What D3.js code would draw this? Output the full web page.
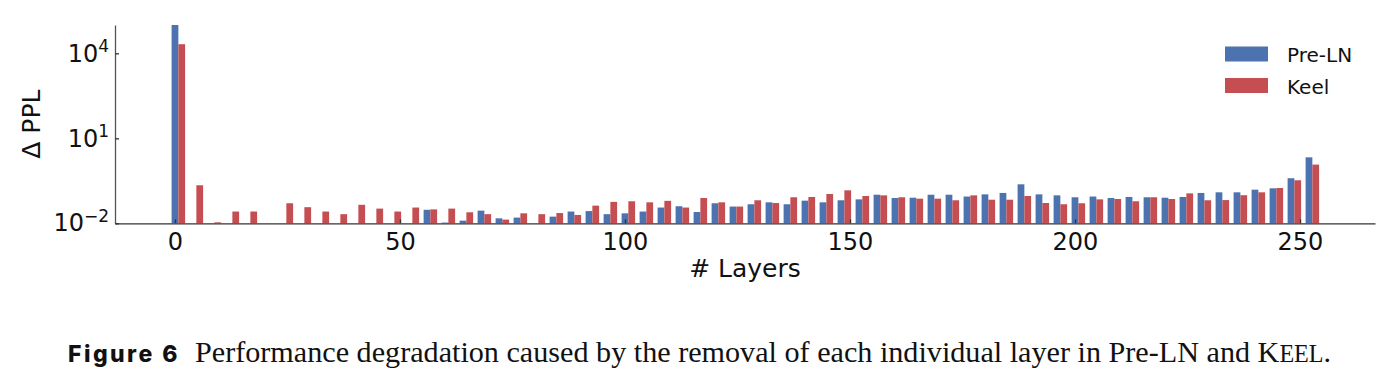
<!DOCTYPE html>
<html>
<head>
<meta charset="utf-8">
<script src="https://cdn.jsdelivr.net/npm/d3@7"></script>
<style>
  body { margin: 0; background: #fff; }
  svg { display: block; }
  text { fill: #111; }
</style>
</head>
<body>
<div id="chart"></div>
<script>
// layer index of each group (every 4th layer)
var layers = [0, 4, 8, 12, 16, 20, 24, 28, 32, 36, 40, 44, 48, 52, 56, 60,
  64, 68, 72, 76, 80, 84, 88, 92, 96, 100, 104, 108, 112, 116, 120, 124,
  128, 132, 136, 140, 144, 148, 152, 156, 160, 164, 168, 172, 176, 180, 184, 188,
  192, 196, 200, 204, 208, 212, 216, 220, 224, 228, 232, 236, 240, 244, 248, 252];

// delta PPL after removing the layer (null = below the axis floor)
var preLN = [1.2e5, null, null, null, null, null, null, null, null, null, null, null, null, null, 0.030, 0.0106,
  0.0124, 0.028, 0.015, 0.0159, null, 0.0172, 0.026, 0.027, 0.021, 0.0225, 0.026, 0.036, 0.040, 0.025, 0.051, 0.039,
  0.047, 0.055, 0.047, 0.063, 0.055, 0.065, 0.070, 0.102, 0.078, 0.080, 0.102, 0.102, 0.088, 0.105, 0.118, 0.238,
  0.105, 0.097, 0.083, 0.088, 0.078, 0.085, 0.083, 0.080, 0.085, 0.118, 0.124, 0.124, 0.154, 0.172, 0.39, 2.13];

var keel = [2.1e4, 0.22, 0.0108, 0.026, 0.026, null, 0.051, 0.037, 0.026, 0.021, 0.045, 0.033, 0.026, 0.036, 0.031, 0.033,
  0.0245, 0.021, 0.0135, 0.0225, 0.021, 0.023, 0.0197, 0.042, 0.057, 0.060, 0.055, 0.062, 0.036, 0.078, 0.055, 0.039,
  0.065, 0.052, 0.083, 0.085, 0.108, 0.146, 0.092, 0.097, 0.083, 0.074, 0.074, 0.065, 0.097, 0.068, 0.068, 0.092,
  0.052, 0.047, 0.051, 0.070, 0.072, 0.060, 0.083, 0.072, 0.114, 0.065, 0.066, 0.098, 0.124, 0.176, 0.33, 1.18];

var seriesNames = ["Pre-LN", "Keel"];
var seriesColors = ["#4c72b0", "#c44e52"];
var xTicks = [0, 50, 100, 150, 200, 250];
var yTicks = [1e-2, 1e1, 1e4];
var yTickExp = ["\u22122", "1", "4"];

var svgWidth = 1399;
var svgHeight = 386;
var sans = "'DejaVu Sans', sans-serif";

var plot = { left: 115, right: 1375, top: 25, bottom: 223.3 };

var svg = d3.select("#chart")
  .append("svg")
  .attr("width", svgWidth)
  .attr("height", svgHeight);

var x = d3.scaleLinear()
  .domain([-13.33, 266.67])
  .range([plot.left, plot.right]);

var y = d3.scaleLog()
  .domain([1e-2, 1e5])
  .range([plot.bottom, plot.top])
  .clamp(true);

var half = 0.75;
var barW = x(half) - x(-half);

// bars
[preLN, keel].forEach(function(vals, si) {
  var rows = layers.map(function(l, i) { return { layer: l, v: vals[i] }; })
    .filter(function(d) { return d.v != null && d.v > 1e-2; });
  svg.append("g")
    .selectAll("rect")
    .data(rows)
    .enter()
    .append("rect")
    .attr("x", d => si === 0 ? x(d.layer - half) : x(d.layer + half))
    .attr("y", d => y(d.v))
    .attr("width", barW)
    .attr("height", d => plot.bottom - y(d.v))
    .attr("fill", seriesColors[si]);
});

// axes
var xAxis = d3.axisBottom(x)
  .tickValues(xTicks)
  .tickSizeInner(-4)
  .tickSizeOuter(0)
  .tickPadding(10)
  .tickFormat(d3.format("d"));

var gx = svg.append("g")
  .attr("transform", `translate(0, ${plot.bottom})`)
  .call(xAxis);
gx.select(".domain").attr("stroke", "#333").attr("stroke-width", 1.3);
gx.selectAll(".tick line").attr("stroke", "#333").attr("stroke-width", 1.3);
gx.selectAll("text").attr("font-size", 24).style("font-family", sans).attr("fill", "#111");

var yAxis = d3.axisLeft(y)
  .tickValues(yTicks)
  .tickSizeInner(-4)
  .tickSizeOuter(0)
  .tickPadding(6)
  .tickFormat(function() { return ""; });

var gy = svg.append("g")
  .attr("transform", `translate(${plot.left}, 0)`)
  .call(yAxis);
gy.select(".domain").attr("stroke", "#555").attr("stroke-width", 1.3);
gy.selectAll(".tick line").attr("stroke", "#333").attr("stroke-width", 1.3);
gy.selectAll(".tick text")
  .attr("x", -6)
  .attr("font-size", 24)
  .style("font-family", sans)
  .attr("fill", "#111")
  .each(function(d, i) {
    var t = d3.select(this);
    t.append("tspan").text("10");
    t.append("tspan")
      .attr("dy", "-0.55em")
      .attr("font-size", 17)
      .text(yTickExp[i]);
  });

// axis labels
svg.append("text")
  .attr("x", (plot.left + plot.right) / 2)
  .attr("y", 277)
  .attr("text-anchor", "middle")
  .attr("font-size", 25)
  .style("font-family", sans)
  .text("# Layers");

svg.append("text")
  .attr("transform", `translate(40, ${(plot.top + plot.bottom) / 2}) rotate(-90)`)
  .attr("text-anchor", "middle")
  .attr("font-size", 25)
  .style("font-family", sans)
  .text("\u0394 PPL");

// legend
var legend = svg.append("g");
seriesNames.forEach(function(name, i) {
  legend.append("rect")
    .attr("x", 1225)
    .attr("y", 46.5 + i * 31.5)
    .attr("width", 43)
    .attr("height", 15)
    .attr("fill", seriesColors[i]);
  legend.append("text")
    .attr("x", 1287)
    .attr("y", 62 + i * 31.5)
    .attr("font-size", 20)
    .style("font-family", sans)
    .text(name);
});

// caption
var cap = svg.append("g");
var figLabel = cap.append("text")
  .attr("x", 68)
  .attr("y", 362)
  .style("font-family", "Inter, sans-serif")
  .attr("font-weight", 800)
  .attr("font-size", 23)
  .text("Figure 6");
var figLen = figLabel.node().getComputedTextLength();
figLabel.attr("letter-spacing", Math.max(0, (112 - figLen) / 8));

var capText = cap.append("text")
  .attr("x", 195)
  .attr("y", 362)
  .style("font-family", "'Liberation Serif', serif")
  .attr("font-size", 22);
capText.append("tspan").text("Performance degradation caused by the removal of each individual layer in Pre-LN and K");
capText.append("tspan").attr("font-size", "0.8em").text("EEL");
capText.append("tspan").text(".");

var capLen = capText.node().getComputedTextLength();
capText.attr("font-size", 22 * 1137 / capLen);
</script>
</body>
</html>
